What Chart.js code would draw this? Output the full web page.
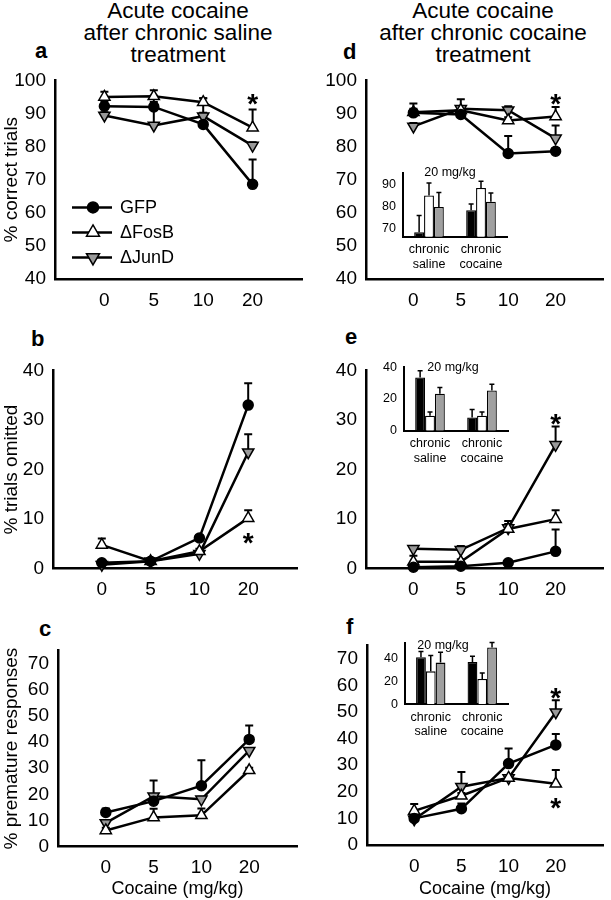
<!DOCTYPE html>
<html>
<head>
<meta charset="utf-8">
<script src="https://cdn.jsdelivr.net/npm/chart.js@4.4.1/dist/chart.umd.min.js"></script>
<style>
  body { margin: 0; background: #fff; }
  #page { position: relative; width: 611px; height: 900px; overflow: hidden; background: #fff;
          font-family: Arial, "Liberation Sans", sans-serif; color: #000; }
  #page canvas { position: absolute; }
  .head { position: absolute; top: 0; width: 240px; text-align: center; font-size: 22.5px; line-height: 22px; }
  .letter { position: absolute; font-size: 22px; line-height: 22px; font-weight: bold; }
</style>
</head>
<body>
<div id="page">
  <div class="head" style="left:58px">Acute cocaine<br>after chronic saline<br>treatment</div>
  <div class="head" style="left:363px">Acute cocaine<br>after chronic cocaine<br>treatment</div>
  <div class="letter" style="left:35px;top:40px">a</div>
  <div class="letter" style="left:31px;top:328px">b</div>
  <div class="letter" style="left:39px;top:618px">c</div>
  <div class="letter" style="left:343px;top:41px">d</div>
  <div class="letter" style="left:345px;top:326px">e</div>
  <div class="letter" style="left:346px;top:616px">f</div>
</div>
<script>
// x axis: doses, placed at 1..4 on a 0..5 linear scale
var doses = ['0', '5', '10', '20'];
var doseX = [1, 2, 3, 4];
var seriesNames = ['GFP', '\u0394FosB', '\u0394JunD'];
var insetGroups = [['chronic', 'saline'], ['chronic', 'cocaine']];
var insetTitleText = '20 mg/kg';
var xTitle = 'Cocaine (mg/kg)';

// y tick labels
var ticksCorrect = [40, 50, 60, 70, 80, 90, 100];
var ticksOmit = [0, 10, 20, 30, 40];
var ticksPrem = [0, 10, 20, 30, 40, 50, 60, 70];
var ticksInsetD = [70, 80, 90];
var ticksInsetE = [0, 20, 40];
var ticksInsetF = [0, 20, 40];

// a: % correct trials, chronic saline
var gfpA = [92.2, 92.0, 86.7, 68.6];
var gfpAErr = [1.5, 1.5, 7.9, 7.5];
var fosbA = [95.0, 95.2, 93.4, 85.7];
var fosbAErr = [1.6, 1.8, 1.2, 5.5];
var jundA = [89.4, 86.4, 89.2, 80.3];
var jundAErr = [1.0, 9.0, 1.0, 1.0];
var starsA = [95.2];

// b: % trials omitted, chronic saline
var gfpB = [1.2, 1.5, 6.2, 33.0];
var gfpBErr = [0.5, 0.5, 0.5, 4.4];
var fosbB = [4.8, 1.5, 3.5, 10.2];
var fosbBErr = [1.3, 0.5, 0.5, 1.6];
var jundB = [0.8, 1.5, 3.0, 23.5];
var jundBErr = [0.5, 0.5, 0.5, 3.6];
var starsB = [6.6];

// c: % premature responses, chronic saline
var gfpC = [13.1, 17.4, 23.3, 41.0];
var gfpCErr = [1.5, 2.0, 9.7, 5.3];
var fosbC = [6.2, 11.2, 12.0, 29.2];
var fosbCErr = [1.0, 3.3, 2.6, 1.0];
var jundC = [9.1, 19.3, 18.1, 36.7];
var jundCErr = [1.0, 6.0, 1.0, 1.0];
var starsC = [];

// d: % correct trials, chronic cocaine
var gfpD = [90.2, 89.7, 77.9, 78.6];
var gfpDErr = [2.8, 1.0, 5.3, 1.0];
var fosbD = [90.4, 91.0, 87.9, 89.1];
var fosbDErr = [1.0, 1.0, 1.0, 2.9];
var jundD = [86.1, 91.4, 91.0, 82.5];
var jundDErr = [1.0, 2.9, 1.2, 3.9];
var starsD = [95.0];

// e: % trials omitted, chronic cocaine
var gfpE = [0.3, 0.5, 1.2, 3.5];
var gfpEErr = [0.3, 0.3, 0.3, 4.4];
var fosbE = [1.4, 1.4, 8.0, 10.0];
var fosbEErr = [1.2, 0.5, 1.0, 1.8];
var jundE = [4.0, 3.8, 8.2, 25.0];
var jundEErr = [0.3, 0.8, 1.4, 3.7];
var starsE = [30.6];

// f: % premature responses, chronic cocaine
var gfpF = [10.0, 13.6, 30.6, 37.6];
var gfpFErr = [1.0, 2.0, 5.7, 4.1];
var fosbF = [12.8, 18.5, 25.2, 23.0];
var fosbFErr = [2.6, 1.0, 1.0, 5.2];
var jundF = [9.7, 21.9, 25.2, 49.9];
var jundFErr = [1.0, 5.5, 1.0, 4.5];
var starsF = [58.0, 16.8];

// insets: 20 mg/kg, chronic saline vs chronic cocaine
var gfpDIn = [68.5, 78.5];
var gfpDInErr = [7.6, 2.8];
var fosbDIn = [85.2, 88.6];
var fosbDInErr = [5.7, 3.1];
var jundDIn = [80.0, 82.4];
var jundDInErr = [6.6, 4.0];

var gfpEIn = [33.6, 8.3];
var gfpEInErr = [4.2, 5.0];
var fosbEIn = [9.4, 9.4];
var fosbEInErr = [2.4, 2.4];
var jundEIn = [23.3, 25.4];
var jundEInErr = [3.9, 3.9];

var gfpFIn = [41.4, 37.2];
var gfpFInErr = [5.0, 5.0];
var fosbFIn = [29.0, 22.3];
var fosbFInErr = [13.9, 5.2];
var jundFIn = [36.7, 50.1];
var jundFInErr = [9.1, 4.2];

var GRAY = '#999999';
var FONT = 'Arial, "Liberation Sans", sans-serif';
Chart.defaults.font.family = FONT;
Chart.defaults.color = '#000';
Chart.defaults.animation = false;

function drawMarker(ctx, kind, x, y, r) {
  ctx.save();
  ctx.lineWidth = 1.5;
  ctx.strokeStyle = '#000';
  ctx.beginPath();
  if (kind === 0) {
    ctx.arc(x, y, r - 1, 0, Math.PI * 2);
    ctx.fillStyle = '#000';
  } else {
    var s = kind === 1 ? 1 : -1;
    ctx.moveTo(x, y - s * r);
    ctx.lineTo(x + r * 0.866, y + s * r / 2);
    ctx.lineTo(x - r * 0.866, y + s * r / 2);
    ctx.closePath();
    ctx.fillStyle = kind === 1 ? '#fff' : GRAY;
  }
  ctx.fill();
  ctx.stroke();
  ctx.restore();
}

function drawErr(chart, opts) {
  var ctx = chart.ctx, ys = chart.scales.y;
  ctx.save();
  ctx.strokeStyle = '#000';
  ctx.lineWidth = opts.width;
  chart.data.datasets.forEach(function (ds, di) {
    if (!ds.errs) return;
    var meta = chart.getDatasetMeta(di);
    meta.data.forEach(function (el, i) {
      var raw = ds.data[i];
      var v = (typeof raw === 'object') ? raw.y : raw;
      var x = el.x, y1 = ys.getPixelForValue(v + ds.errs[i]);
      ctx.beginPath();
      ctx.moveTo(x, el.y);
      ctx.lineTo(x, y1);
      ctx.moveTo(x - opts.cap, y1);
      ctx.lineTo(x + opts.cap, y1);
      ctx.stroke();
    });
  });
  ctx.restore();
}

var errorBars = {
  id: 'errorBars',
  beforeDatasetsDraw: function (chart, args, opts) { if (opts.mode === 'line') drawErr(chart, opts); },
  afterDatasetsDraw: function (chart, args, opts) { if (opts.mode === 'bar') drawErr(chart, opts); }
};

var stars = {
  id: 'stars',
  afterDatasetsDraw: function (chart, args, opts) {
    if (!opts.values || !opts.values.length) return;
    var ctx = chart.ctx, xs = chart.scales.x, ys = chart.scales.y;
    ctx.save();
    ctx.fillStyle = '#000';
    ctx.font = 'bold 28px ' + FONT;
    ctx.textAlign = 'center';
    ctx.textBaseline = 'alphabetic';
    opts.values.forEach(function (v) {
      ctx.fillText('*', xs.getPixelForValue(doseX[3]), ys.getPixelForValue(v) + 28 * 0.58);
    });
    ctx.restore();
  }
};

var keyBox = {
  id: 'keyBox',
  afterDraw: function (chart, args, opts) {
    if (!opts.show) return;
    var ctx = chart.ctx, a = chart.chartArea;
    for (var i = 0; i < 3; i++) {
      var y = a.top + 127 + i * 25, x0 = a.left + 17;
      ctx.save();
      ctx.strokeStyle = '#000';
      ctx.lineWidth = 2.5;
      ctx.beginPath();
      ctx.moveTo(x0, y);
      ctx.lineTo(x0 + 40, y);
      ctx.stroke();
      ctx.restore();
      drawMarker(ctx, i, x0 + 21, y, i === 0 ? 6.5 : 7.5);
      ctx.save();
      ctx.fillStyle = '#000';
      ctx.font = '18px ' + FONT;
      ctx.textAlign = 'left';
      ctx.textBaseline = 'middle';
      ctx.fillText(seriesNames[i], x0 + 48, y + 1);
      ctx.restore();
    }
  }
};

var insetTitle = {
  id: 'insetTitle',
  afterDraw: function (chart, args, opts) {
    if (!opts.text) return;
    var ctx = chart.ctx, a = chart.chartArea;
    ctx.save();
    ctx.fillStyle = '#000';
    ctx.font = '12.5px ' + FONT;
    ctx.textAlign = 'center';
    ctx.textBaseline = 'middle';
    ctx.fillText(opts.text, a.left + opts.dx, a.top + opts.dy);
    ctx.restore();
  }
};

function makeCanvas(box) {
  var c = document.createElement('canvas');
  c.width = box[2];
  c.height = box[3];
  c.style.left = box[0] + 'px';
  c.style.top = box[1] + 'px';
  document.getElementById('page').appendChild(c);
  return c;
}

function pts(vals) {
  return vals.map(function (v, i) { return { x: doseX[i], y: v }; });
}

function linePanel(p) {
  var box = p.box, area = p.area;
  var common = { borderColor: '#000', borderWidth: 2.5, pointBorderColor: '#000', pointBorderWidth: 1.5, clip: false, tension: 0 };
  var sets = [
    Object.assign({ label: seriesNames[0], data: pts(p.gfp), errs: p.gfpErr, pointStyle: 'circle', pointRadius: 5, pointBackgroundColor: '#000' }, common),
    Object.assign({ label: seriesNames[1], data: pts(p.fosb), errs: p.fosbErr, pointStyle: 'triangle', pointRadius: 6.5, pointBackgroundColor: '#fff' }, common),
    Object.assign({ label: seriesNames[2], data: pts(p.jund), errs: p.jundErr, pointStyle: 'triangle', pointRotation: 180, pointRadius: 6.5, pointBackgroundColor: GRAY }, common)
  ];
  return new Chart(makeCanvas(box), {
    type: 'line',
    data: { datasets: sets },
    options: {
      responsive: false,
      animation: false,
      events: [],
      layout: { padding: { top: area[1] - box[1], right: box[0] + box[2] - area[2], left: 0, bottom: 0 } },
      plugins: {
        legend: { display: false },
        tooltip: { enabled: false },
        errorBars: { mode: 'line', width: 2, cap: 4 },
        stars: { values: p.stars },
        keyBox: { show: !!p.legend }
      },
      scales: {
        x: {
          type: 'linear', min: 0, max: 5,
          grid: { display: false, drawTicks: false },
          border: { display: true, color: '#000', width: 2.5 },
          afterBuildTicks: function (s) { s.ticks = doseX.map(function (v) { return { value: v }; }); },
          afterFit: function (s) { s.height = box[1] + box[3] - area[3]; },
          ticks: { padding: 10, font: { size: 19 }, maxRotation: 0, autoSkip: false,
                   callback: function (v) { return doses[doseX.indexOf(v)]; } },
          title: { display: !!p.xTitle, text: xTitle, font: { size: 18 }, padding: 0 }
        },
        y: {
          min: p.yMin, max: p.yMax,
          grid: { display: false, drawTicks: false },
          border: { display: true, color: '#000', width: 2.5 },
          afterBuildTicks: function (s) { s.ticks = p.yTicks.map(function (v) { return { value: v }; }); },
          afterFit: function (s) { s.width = area[0] - box[0]; },
          ticks: { padding: 9, font: { size: 19 } },
          title: { display: !!p.yTitle, text: p.yTitle || '', font: { size: 19 }, padding: 0 }
        }
      }
    },
    plugins: [errorBars, stars, keyBox]
  });
}

function insetPanel(p) {
  var box = p.box, area = p.area;
  var common = { borderColor: '#000', borderWidth: 1.3, borderSkipped: 'start', categoryPercentage: 0.57, barPercentage: 1 };
  var sets = [
    Object.assign({ label: seriesNames[0], data: p.gfp, errs: p.gfpErr, backgroundColor: '#000' }, common),
    Object.assign({ label: seriesNames[1], data: p.fosb, errs: p.fosbErr, backgroundColor: '#fff' }, common),
    Object.assign({ label: seriesNames[2], data: p.jund, errs: p.jundErr, backgroundColor: '#a0a0a0' }, common)
  ];
  return new Chart(makeCanvas(box), {
    type: 'bar',
    data: { labels: insetGroups, datasets: sets },
    options: {
      responsive: false,
      animation: false,
      events: [],
      layout: { padding: { top: area[1] - box[1], right: box[0] + box[2] - area[2], left: 0, bottom: 0 } },
      plugins: {
        legend: { display: false },
        tooltip: { enabled: false },
        errorBars: { mode: 'bar', width: 1.5, cap: 2.5 },
        insetTitle: { text: insetTitleText, dx: p.titleDx, dy: p.titleDy }
      },
      scales: {
        x: {
          grid: { display: false, drawTicks: false },
          border: { display: true, color: '#000', width: 2 },
          afterFit: function (s) { s.height = box[1] + box[3] - area[3]; },
          ticks: { padding: 6, font: { size: 12.5, lineHeight: 1.15 }, maxRotation: 0, autoSkip: false }
        },
        y: {
          min: p.yMin, max: p.yMax,
          grid: { display: false, drawTicks: false },
          border: { display: true, color: '#000', width: 2 },
          afterBuildTicks: function (s) { s.ticks = p.yTicks.map(function (v) { return { value: v }; }); },
          afterFit: function (s) { s.width = area[0] - box[0]; },
          ticks: { padding: 7, font: { size: 12.5 } }
        }
      }
    },
    plugins: [errorBars, insetTitle]
  });
}

linePanel({ box: [0, 60, 311, 260], area: [55, 77, 302, 279], yMin: 40, yMax: 100, yTicks: ticksCorrect,
  yTitle: '% correct trials', gfp: gfpA, gfpErr: gfpAErr, fosb: fosbA, fosbErr: fosbAErr, jund: jundA, jundErr: jundAErr,
  stars: starsA, legend: true });
linePanel({ box: [0, 350, 311, 250], area: [53, 364, 297, 568.7], yMin: 0, yMax: 40, yTicks: ticksOmit,
  yTitle: '% trials omitted', gfp: gfpB, gfpErr: gfpBErr, fosb: fosbB, fosbErr: fosbBErr, jund: jundB, jundErr: jundBErr,
  stars: starsB });
linePanel({ box: [0, 630, 311, 270], area: [58, 645.5, 297, 846.7], yMin: 0, yMax: 75, yTicks: ticksPrem,
  yTitle: '% premature responses', xTitle: true, gfp: gfpC, gfpErr: gfpCErr, fosb: fosbC, fosbErr: fosbCErr, jund: jundC, jundErr: jundCErr,
  stars: starsC });
linePanel({ box: [311, 60, 300, 260], area: [366, 75.7, 607, 279], yMin: 40, yMax: 100, yTicks: ticksCorrect,
  gfp: gfpD, gfpErr: gfpDErr, fosb: fosbD, fosbErr: fosbDErr, jund: jundD, jundErr: jundDErr, stars: starsD });
linePanel({ box: [311, 350, 300, 250], area: [366, 364, 608, 568.7], yMin: 0, yMax: 40, yTicks: ticksOmit,
  gfp: gfpE, gfpErr: gfpEErr, fosb: fosbE, fosbErr: fosbEErr, jund: jundE, jundErr: jundEErr, stars: starsE });
linePanel({ box: [311, 625, 300, 275], area: [367, 639.3, 608, 845], yMin: 0, yMax: 75, yTicks: ticksPrem, xTitle: true,
  gfp: gfpF, gfpErr: gfpFErr, fosb: fosbF, fosbErr: fosbFErr, jund: jundF, jundErr: jundFErr, stars: starsF });

insetPanel({ box: [375, 158, 140, 115], area: [403, 173.3, 507, 236.7], yMin: 66.5, yMax: 95.3, yTicks: ticksInsetD,
  gfp: gfpDIn, gfpErr: gfpDInErr, fosb: fosbDIn, fosbErr: fosbDInErr, jund: jundDIn, jundErr: jundDInErr, titleDx: 47, titleDy: -1 });
insetPanel({ box: [375, 352, 140, 120], area: [404, 367.3, 508, 430.7], yMin: 0, yMax: 40, yTicks: ticksInsetE,
  gfp: gfpEIn, gfpErr: gfpEInErr, fosb: fosbEIn, fosbErr: fosbEInErr, jund: jundEIn, jundErr: jundEInErr, titleDx: 49, titleDy: 0 });
insetPanel({ box: [375, 628, 140, 120], area: [405, 641.7, 508, 704.3], yMin: 0, yMax: 54.4, yTicks: ticksInsetF,
  gfp: gfpFIn, gfpErr: gfpFInErr, fosb: fosbFIn, fosbErr: fosbFInErr, jund: jundFIn, jundErr: jundFInErr, titleDx: 38, titleDy: 3 });
</script>
</body>
</html>
